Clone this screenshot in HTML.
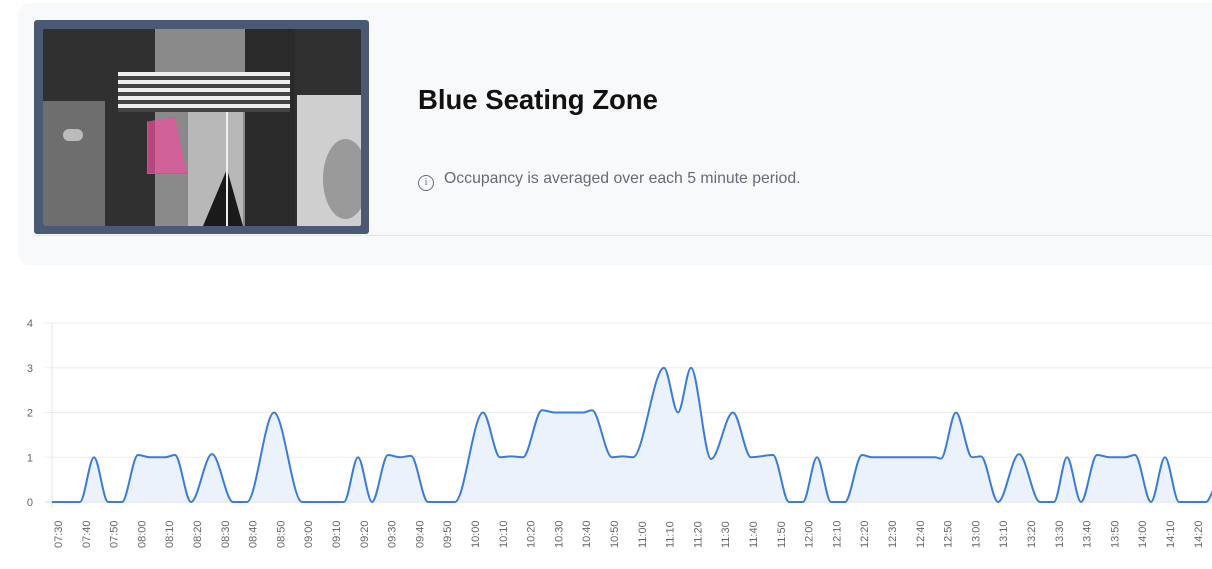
<!DOCTYPE html>
<html><head><meta charset="utf-8"><style>
body{margin:0;width:1212px;height:569px;background:#fff;overflow:hidden;position:relative;font-family:"Liberation Sans",sans-serif}
.card{position:absolute;left:18px;top:3px;width:1210px;height:262px;background:#f8f9fb;border-radius:12px}
.sep{position:absolute;left:34px;top:235px;width:1178px;height:1px;background:#e3e5e9}
.frame{position:absolute;left:34px;top:20px;width:335px;height:214px;background:#4a5a75;border-radius:3px}
.img{position:absolute;left:9px;top:9px;width:318px;height:197px;background:#2a2a2a;overflow:hidden;border-radius:2px}
.img div{position:absolute}
h1{position:absolute;left:418px;top:84px;margin:0;font-size:27.5px;font-weight:bold;color:#111}
.info{position:absolute;left:418px;top:170px;font-size:15.8px;color:#666b78}
.info span{display:inline-block;width:14px;height:14px;border:1.3px solid #666b78;border-radius:50%;font-size:10px;text-align:center;line-height:14px;margin-right:10px;vertical-align:-2px;font-family:"Liberation Serif",serif}
</style></head><body>
<div class="card"></div>
<div class="sep"></div>
<div class="frame"><div class="img">
 <div style="left:0;top:0;width:318px;height:197px;background:#303030"></div>
 <div style="left:0;top:72px;width:62px;height:125px;background:#6e6e6e"></div>
 <div style="left:20px;top:100px;width:20px;height:12px;background:#bbb;border-radius:6px"></div>
 <div style="left:112px;top:0;width:90px;height:197px;background:#8a8a8a"></div>
 <div style="left:145px;top:80px;width:55px;height:117px;background:#b8b8b8"></div>
 <div style="left:160px;top:140px;width:40px;height:57px;background:#1a1a1a;clip-path:polygon(60% 0,100% 100%,0 100%)"></div>
 <div style="left:202px;top:0;width:50px;height:197px;background:#2a2a2a"></div>
 <div style="left:254px;top:66px;width:64px;height:131px;background:#cfcfcf"></div>
 <div style="left:280px;top:110px;width:45px;height:80px;background:#9a9a9a;border-radius:50%"></div>
 <div style="left:75px;top:43px;width:172px;height:40px;background:repeating-linear-gradient(#eee 0 4px,#444 4px 8px)"></div>
 <div style="left:183px;top:83px;width:2px;height:114px;background:#eee"></div>
 <div style="left:104px;top:88px;width:38px;height:55px;background:rgba(240,80,160,0.7);border:1.5px solid #f03c9c;clip-path:polygon(0 8%,70% 0,100% 100%,0 100%)"></div>
</div></div>
<h1>Blue Seating Zone</h1>
<div class="info"><span>i</span>Occupancy is averaged over each 5 minute period.</div>
<svg id="c" width="1212" height="569" style="position:absolute;left:0;top:0" font-family="Liberation Sans, sans-serif" font-size="11" fill="#666"></svg>
<script>
var s=document.getElementById('c'),h='';
function Y(v){return 502-v*44.75;}
for(var i=0;i<=4;i++){h+='<line x1="45" x2="1212" y1="'+Y(i)+'" y2="'+Y(i)+'" stroke="'+(i==0?'#d8dbe2':'#eeeeee')+'"/>';h+='<text x="33" y="'+(Y(i)+4)+'" text-anchor="end">'+i+'</text>';}
h+='<line x1="52" x2="52" y1="323" y2="508" stroke="#e4e4e4"/>';
for(var k=0;k<=41;k++){var x=58+k*27.8,m=450+k*10,t=('0'+Math.floor(m/60)).slice(-2)+':'+('0'+m%60).slice(-2);
h+='<text transform="translate('+(x+4)+',548) rotate(-90)">'+t+'</text>';}
var P=[[52,0],[80,0],[94,1],[108,0],[122,0],[138,1.05],[150,1],[165,1],[175,1.05],[191,0],[212,1.07],[233,0],[247,0],[274,2],[302,0],[344,0],[358,1],[372,0],[388,1.05],[400,1],[411,1.03],[428,0],[455,0],[483,2],[500,1],[511,1.02],[523,1],[542,2.05],[555,2],[583,2],[592,2.05],[612,1],[623,1.02],[633,1],[664,3],[678,2],[691,3],[711,0.96],[733,2],[751,1],[773,1.05],[789,0],[803,0],[817,1],[831,0],[845,0],[862,1.05],[872,1],[935,1],[941,0.97],[956,2],[972,1],[981,1.02],[998,0],[1019,1.07],[1040,0],[1054,0],[1067,1],[1081,0],[1097,1.05],[1110,1],[1125,1],[1135,1.05],[1151,0],[1165,1],[1179,0],[1206,0],[1214,0.3]];
var n=P.length,d=[],mm=[];
for(i=0;i<n-1;i++)d.push((P[i+1][1]-P[i][1])/(P[i+1][0]-P[i][0]));
for(i=0;i<n;i++){if(i==0)mm.push(d[0]);else if(i==n-1)mm.push(d[n-2]);else{var a=d[i-1],b=d[i];if(a*b<=0)mm.push(0);else{var h0=P[i][0]-P[i-1][0],h1=P[i+1][0]-P[i][0];mm.push(3*(h0+h1)/((2*h1+h0)/a+(h1+2*h0)/b));}}}
var p='M'+P[0][0]+','+Y(P[0][1]);
for(i=0;i<n-1;i++){var dx=(P[i+1][0]-P[i][0])/3;p+='C'+(P[i][0]+dx)+','+Y(P[i][1]+mm[i]*dx)+' '+(P[i+1][0]-dx)+','+Y(P[i+1][1]-mm[i+1]*dx)+' '+P[i+1][0]+','+Y(P[i+1][1]);}
h+='<path d="'+p+'L1214,502L52,502Z" fill="#e9f0fc" fill-opacity="0.85"/>';
h+='<path d="'+p+'" fill="none" stroke="#3a7be0" stroke-width="2"/>';
s.innerHTML=h;
</script>
</body></html>
